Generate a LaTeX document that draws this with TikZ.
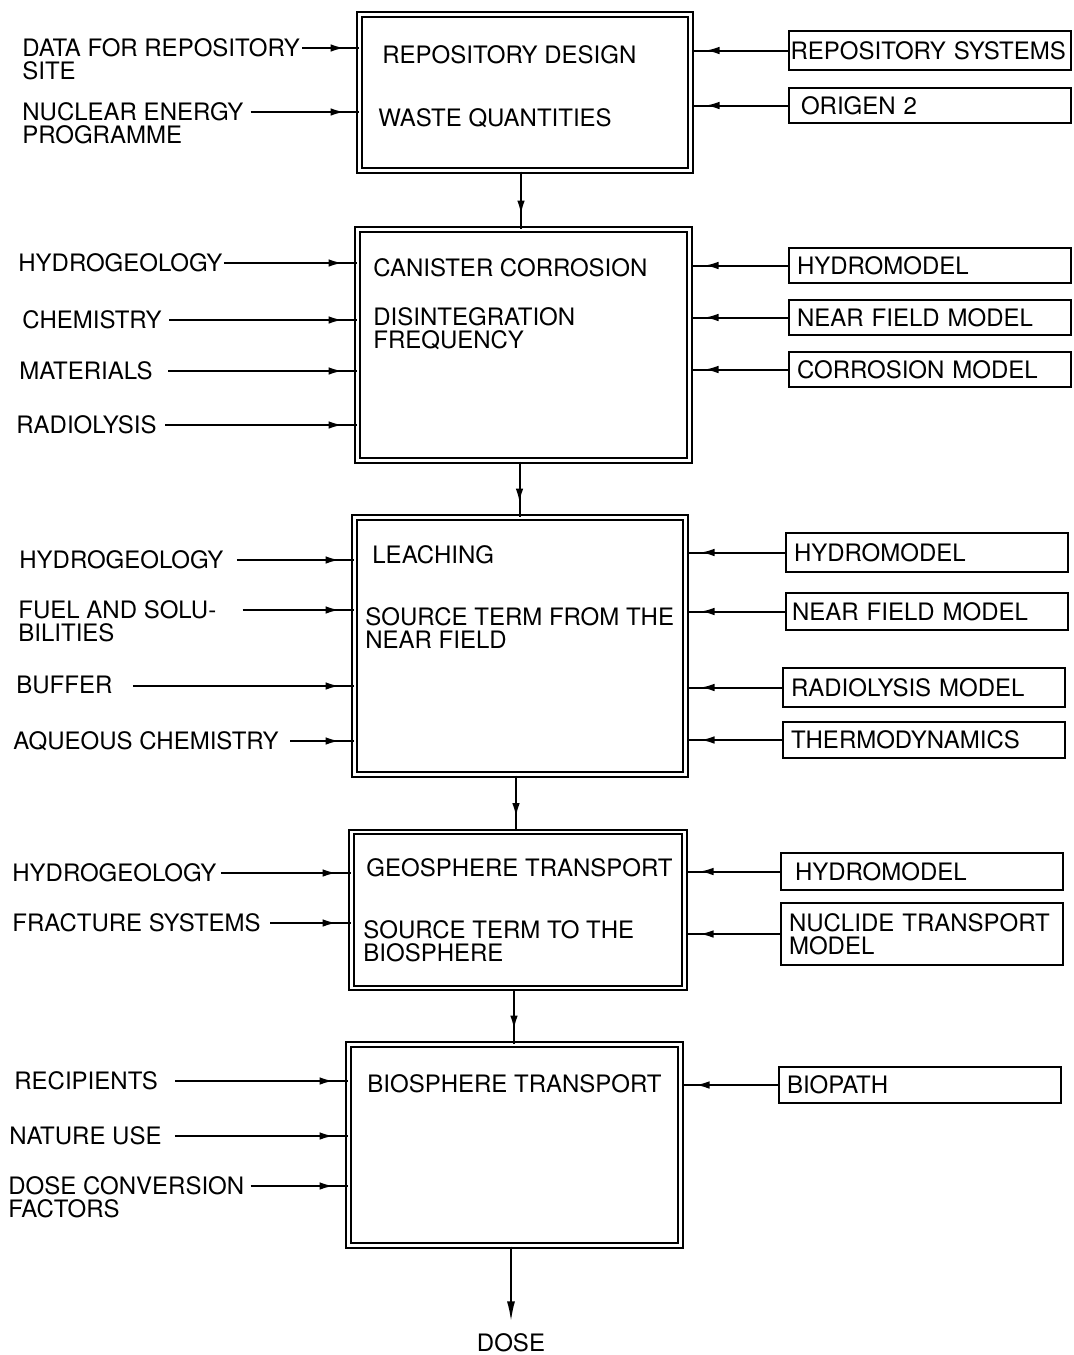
\documentclass[tikz,border=0pt]{standalone}
\usepackage{fontspec}
\setmainfont{TeX Gyre Heros}
\usetikzlibrary{arrows.meta,decorations.markings}
\tikzset{
  txt/.style={anchor=north west, align=left, inner sep=0pt, font=\fontsize{12}{11.5}\selectfont},
  stage/.style={draw, line width=1pt, double, double distance=1.4pt, inner sep=0pt},
  modelbox/.style={draw, line width=1pt, anchor=west, align=left, minimum height=18.5pt,
    text width=133pt, inner xsep=4pt, inner ysep=0pt, font=\fontsize{12}{11.5}\selectfont},
  feed/.style={line width=1pt, postaction={decorate},
    decoration={markings, mark=at position -7pt with {\arrow{Latex[length=7pt,width=3.8pt]}}}},
}
\begin{document}
\begin{tikzpicture}[x=0.5pt,y=0.5pt,yscale=-1,xscale=1]
\useasboundingbox (0,0) rectangle (1073,1355);
% stages
\node[stage, minimum width=165.5pt, minimum height=78pt] (b1) at (525,92.5) {};
\node[stage, minimum width=166pt, minimum height=115.5pt] (b2) at (523.5,345) {};
\node[stage, minimum width=165.5pt, minimum height=128.5pt] (b3) at (520,646) {};
\node[stage, minimum width=166.5pt, minimum height=78pt] (b4) at (518,910) {};
\node[stage, minimum width=166pt, minimum height=100.5pt] (b5) at (514.5,1145) {};
% stage texts
\node[txt] (t1a) at (382,45) {REPOSITORY DESIGN};
\node[txt] (t1b) at (378,108) {WASTE QUANTITIES};
\node[txt] (t2a) at (373,258) {CANISTER CORROSION};
\node[txt] (t2b) at (373,307) {DISINTEGRATION\\FREQUENCY};
\node[txt] (t3a) at (372,545) {LEACHING};
\node[txt] (t3b) at (365,607) {SOURCE TERM FROM THE\\NEAR FIELD};
\node[txt] (t4a) at (366,858) {GEOSPHERE TRANSPORT};
\node[txt] (t4b) at (363,920) {SOURCE TERM TO THE\\BIOSPHERE};
\node[txt] (t5a) at (367,1074) {BIOSPHERE TRANSPORT};
\node[txt, anchor=center] (dose) at (511,1343) {DOSE};
% flow down
\draw[feed] ([xshift=-2pt]b1.south) -- ([xshift=-2pt]b1.south |- b2.north);
\draw[feed] ([xshift=-2pt]b2.south) -- ([xshift=-2pt]b2.south |- b3.north);
\draw[feed] ([xshift=-2pt]b3.south) -- ([xshift=-2pt]b3.south |- b4.north);
\draw[feed] ([xshift=-2pt]b4.south) -- ([xshift=-2pt]b4.south |- b5.north);
\draw[line width=1pt, -{Latex[length=10pt,width=4pt]}, shorten >=6pt] (b5.south -| dose) -- (dose);
% input data (left)
\node[txt] (ld1) at (22,38) {DATA FOR REPOSITORY\\SITE};
\node[txt] (ld2) at (22,102) {NUCLEAR ENERGY\\PROGRAMME};
\node[txt] (lh2) at (18,253) {HYDROGEOLOGY};
\node[txt] (lc2) at (22,310) {CHEMISTRY};
\node[txt] (lm2) at (19,361) {MATERIALS};
\node[txt] (lr2) at (16,415) {RADIOLYSIS};
\node[txt] (lh3) at (19,550) {HYDROGEOLOGY};
\node[txt] (lf3) at (18,600) {FUEL AND SOLU-\\BILITIES};
\node[txt] (lb3) at (16,676) {BUFFER};
\node[txt] (la3) at (13,731) {AQUEOUS CHEMISTRY};
\node[txt] (lh4) at (12,863) {HYDROGEOLOGY};
\node[txt] (lf4) at (12,913) {FRACTURE SYSTEMS};
\node[txt] (lr5) at (14,1071) {RECIPIENTS};
\node[txt] (ln5) at (9,1126) {NATURE USE};
\node[txt] (ld5) at (8,1176) {DOSE CONVERSION\\FACTORS};
\draw[feed] ([shift={(1pt,5pt)}]ld1.north east) -- ([yshift=5pt]ld1.north east -| b1.west);
\draw[feed] ([shift={(3.5pt,5pt)}]ld2.north east) -- ([yshift=5pt]ld2.north east -| b1.west);
\draw[feed] ([shift={(0.5pt,5pt)}]lh2.north east) -- ([yshift=5pt]lh2.north east -| b2.west);
\draw[feed] ([shift={(3.5pt,5pt)}]lc2.north east) -- ([yshift=5pt]lc2.north east -| b2.west);
\draw[feed] ([shift={(7.5pt,5pt)}]lm2.north east) -- ([yshift=5pt]lm2.north east -| b2.west);
\draw[feed] ([shift={(4pt,5pt)}]lr2.north east) -- ([yshift=5pt]lr2.north east -| b2.west);
\draw[feed] ([shift={(6.5pt,5pt)}]lh3.north east) -- ([yshift=5pt]lh3.north east -| b3.west);
\draw[feed] ([shift={(13pt,5pt)}]lf3.north east) -- ([yshift=5pt]lf3.north east -| b3.west);
\draw[feed] ([shift={(10pt,5pt)}]lb3.north east) -- ([yshift=5pt]lb3.north east -| b3.west);
\draw[feed] ([shift={(5.5pt,5pt)}]la3.north east) -- ([yshift=5pt]la3.north east -| b3.west);
\draw[feed] ([shift={(2pt,5pt)}]lh4.north east) -- ([yshift=5pt]lh4.north east -| b4.west);
\draw[feed] ([shift={(4.5pt,5pt)}]lf4.north east) -- ([yshift=5pt]lf4.north east -| b4.west);
\draw[feed] ([shift={(8.5pt,5pt)}]lr5.north east) -- ([yshift=5pt]lr5.north east -| b5.west);
\draw[feed] ([shift={(6.5pt,5pt)}]ln5.north east) -- ([yshift=5pt]ln5.north east -| b5.west);
\draw[feed] ([shift={(3pt,5pt)}]ld5.north east) -- ([yshift=5pt]ld5.north east -| b5.west);
% models (right)
\node[modelbox, inner xsep=0.8pt, text width=139.4pt, minimum height=19.5pt] (rs1) at (788,50.5) {REPOSITORY SYSTEMS};
\node[modelbox, inner xsep=6pt, text width=129pt, minimum height=17.5pt] (rs2) at (788,105.5) {ORIGEN 2};
\node[modelbox, minimum height=17.5pt] (rh2) at (788,265.5) {HYDROMODEL};
\node[modelbox, minimum height=17.5pt] (rn2) at (788,317.5) {NEAR FIELD MODEL};
\node[modelbox, minimum height=17.5pt] (rc2) at (788,369.5) {CORROSION MODEL};
\node[modelbox, minimum height=19.5pt] (rh3) at (785,552.5) {HYDROMODEL};
\node[modelbox, inner xsep=3pt, text width=135pt] (rn3) at (785,611.5) {NEAR FIELD MODEL};
\node[modelbox, inner xsep=4pt, minimum height=19.5pt] (rr3) at (782,687.5) {RADIOLYSIS MODEL};
\node[modelbox, inner xsep=4pt, minimum height=18pt] (rt3) at (782,740) {THERMODYNAMICS};
\node[modelbox, inner xsep=7pt, text width=127pt] (rh4) at (780,871.5) {HYDROMODEL};
\node[modelbox, inner xsep=4pt, minimum height=31pt] (rn4) at (780,934) {NUCLIDE TRANSPORT\\MODEL};
\node[modelbox, inner xsep=4pt, minimum height=18pt] (rb5) at (778,1085) {BIOPATH};
\draw[feed] (rs1.west) -- (rs1.west -| b1.east);
\draw[feed] (rs2.west) -- (rs2.west -| b1.east);
\draw[feed] (rh2.west) -- (rh2.west -| b2.east);
\draw[feed] (rn2.west) -- (rn2.west -| b2.east);
\draw[feed] (rc2.west) -- (rc2.west -| b2.east);
\draw[feed] (rh3.west) -- (rh3.west -| b3.east);
\draw[feed] (rn3.west) -- (rn3.west -| b3.east);
\draw[feed] (rr3.west) -- (rr3.west -| b3.east);
\draw[feed] (rt3.west) -- (rt3.west -| b3.east);
\draw[feed] (rh4.west) -- (rh4.west -| b4.east);
\draw[feed] (rn4.west) -- (rn4.west -| b4.east);
\draw[feed] (rb5.west) -- (rb5.west -| b5.east);
\end{tikzpicture}
\end{document}
